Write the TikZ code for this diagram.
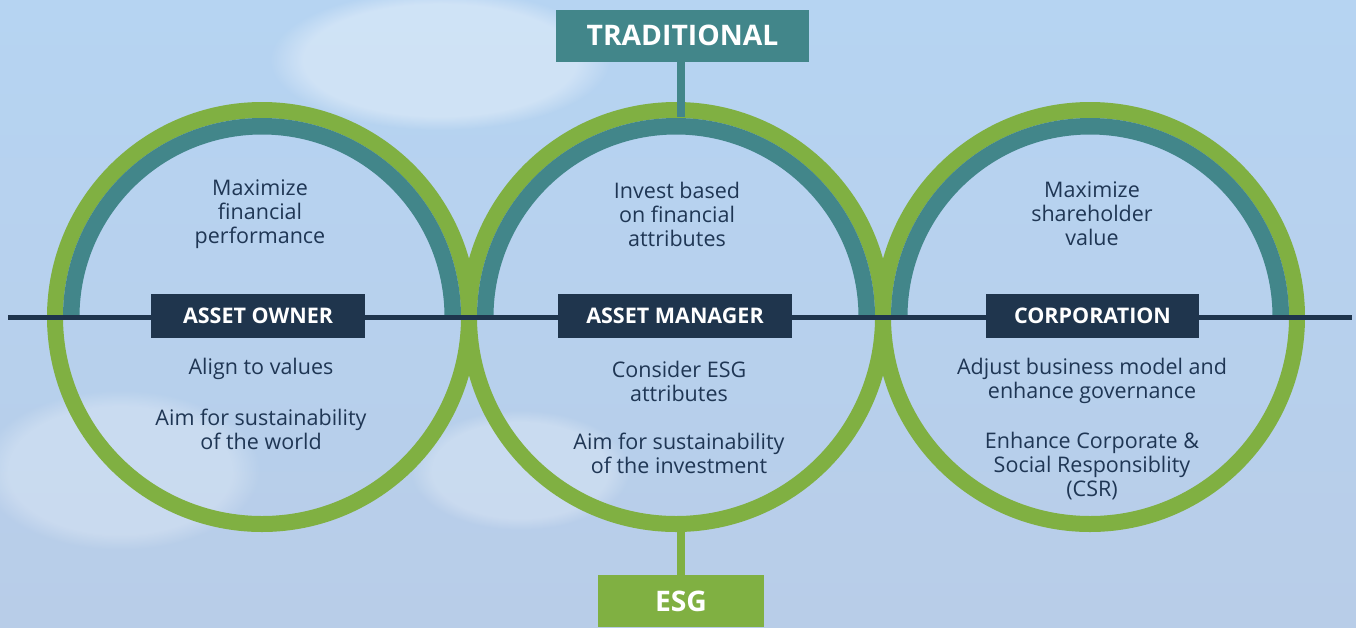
\documentclass[tikz,border=0pt]{standalone}
\usepackage{fontspec}
\setmainfont{Open Sans}
\usetikzlibrary{fadings}
\definecolor{ringgreen}{HTML}{80B042}
\definecolor{ringteal}{HTML}{42868A}
\definecolor{navy}{HTML}{1F354D}
\definecolor{txt}{HTML}{1F3654}
\definecolor{skytop}{HTML}{B6D4F2}
\definecolor{skybot}{HTML}{B8CDE8}
\tikzset{
  greenring/.style={draw=ringgreen, line width=16pt},
  tealring/.style={draw=ringteal, line width=16.5pt},
  labelbox/.style={fill=navy, text=white, font=\fontsize{21.5}{24}\selectfont\bfseries, inner sep=0pt, minimum height=44pt},
  bigbox/.style={text=white, font=\fontsize{28.3}{30}\selectfont\bfseries, inner sep=0pt},
  body/.style={text=txt, align=center, font=\fontsize{21.5}{24}\selectfont, inner sep=0pt},
  cloud/.style={fill=white, path fading=circle with fuzzy edge 20 percent},
}
\begin{document}
\begin{tikzpicture}[x=1pt,y=-1pt]
\useasboundingbox (0,0) rectangle (1356,627);
\shade[top color=skytop, bottom color=skybot] (0,0) rectangle (1356,627);
% soft clouds
\fill[cloud, opacity=0.35] (440,60) ellipse (170 and 70);
\fill[cloud, opacity=0.25] (120,470) ellipse (140 and 80);
\fill[cloud, opacity=0.25] (520,470) ellipse (110 and 60);
% circles
\foreach \cx/\nm in {262/a, 676/b, 1090/c}{
  \draw[greenring] (\cx,317) circle (207);
  \draw[tealring] (\cx-190.75,317) arc[start angle=180, end angle=360, radius=190.75];
}
% horizontal line
\coordinate (hl) at (8,317.5);
\coordinate (hr) at (1352,317.5);
\draw[navy, line width=5.5pt] (hl) -- (hr);
% top and bottom boxes
\node[bigbox, fill=ringteal, minimum width=253pt, minimum height=51.7pt] (trad) at (682.5,35.8) {TRADITIONAL};
\node[bigbox, fill=ringgreen, minimum width=166pt, minimum height=52pt] (esg) at (681,601) {ESG};
\coordinate (mtop) at (681,117);
\coordinate (mbot) at (681,525);
\draw[ringteal, line width=7.5pt] (trad.south -| mtop) -- (mtop);
\draw[ringgreen, line width=7.5pt] (mbot) -- (esg.north -| mbot);
% labels
\node[labelbox, minimum width=214pt] (ao) at (258,316) {ASSET OWNER};
\node[labelbox, minimum width=234pt] (am) at (675,316) {ASSET MANAGER};
\node[labelbox, minimum width=213pt] (co) at (1092.5,316) {CORPORATION};
% texts
\node[body] (t1) at (260,214) {Maximize\\financial\\performance};
\node[body] (t2) at (261,369) {Align to values};
\node[body] (t3) at (261,429) {Aim for sustainability\\of the world};
\node[body] (t4) at (677,214) {Invest based\\on financial\\attributes};
\node[body] (t5) at (679,381) {Consider ESG\\attributes};
\node[body] (t6) at (679,453) {Aim for sustainability\\of the investment};
\node[body] (t7) at (1092,214) {Maximize\\shareholder\\value};
\node[body] (t8) at (1092,381) {Adjust business model and\\enhance governance};
\node[body] (t9) at (1092,466) {Enhance Corporate \&\\Social Responsiblity\\(CSR)};
\end{tikzpicture}
\end{document}
